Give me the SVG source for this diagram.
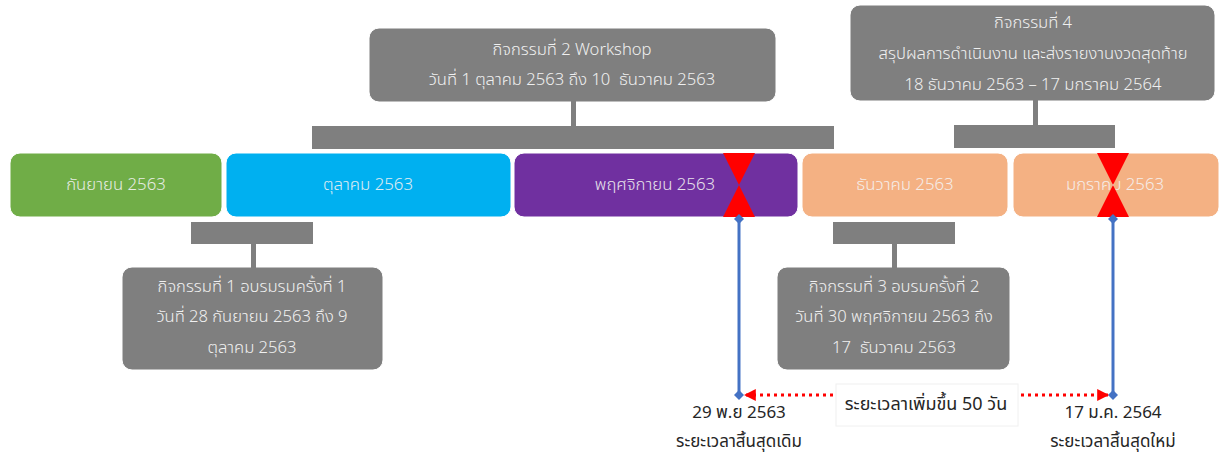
<svg xmlns="http://www.w3.org/2000/svg" width="1220" height="459" viewBox="0 0 1220 459">
<defs>
<style>
text{font-family:"Noto Sans Thai","Noto Sans","Leelawadee UI",Tahoma,sans-serif;text-anchor:middle;dominant-baseline:central;white-space:pre;font-weight:300}
.box{fill:#7f7f7f;stroke:#ffffff;stroke-width:1}
.bar{fill:#7f7f7f}
.bt{fill:#f0f0f0;font-size:16.6px}
.mt{fill:#f4f4f4;font-size:16.8px;opacity:.9}
.month{stroke:#ffffff;stroke-width:1}
.lbl{fill:#262626;font-size:17px;font-weight:400}
.vline{stroke:#4472c4;stroke-width:3}
.dot{stroke:#ff0000;stroke-width:3;stroke-dasharray:3 4;fill:none}
</style>
<marker id="dia" viewBox="0 0 10 10" refX="5" refY="5" markerWidth="10" markerHeight="10" markerUnits="userSpaceOnUse" orient="auto"><path d="M5 0L10 5L5 10L0 5Z" fill="#4472c4"/></marker>
<marker id="arr" viewBox="0 0 10 10" refX="9" refY="5" markerWidth="12" markerHeight="12" markerUnits="userSpaceOnUse" orient="auto"><path d="M0 0L10 5L0 10Z" fill="#ff0000"/></marker>
</defs>

<g id="months">
<g id="m-sep"><rect class="month" x="10" y="153" width="212" height="64" rx="10" fill="#70ad47"/><text class="mt" x="116" y="185">กันยายน 2563</text></g>
<g id="m-oct"><rect class="month" x="226" y="153" width="285" height="64" rx="10" fill="#00b0f0"/><text class="mt" x="368" y="185">ตุลาคม 2563</text></g>
<g id="m-nov"><rect class="month" x="514" y="153" width="284" height="64" rx="10" fill="#7030a0"/><text class="mt" x="655" y="185">พฤศจิกายน 2563</text></g>
<g id="m-dec"><rect class="month" x="802" y="153" width="206" height="64" rx="10" fill="#f4b183"/><text class="mt" x="905" y="185">ธันวาคม 2563</text></g>
<g id="m-jan"><rect class="month" x="1013" y="153" width="206" height="64" rx="10" fill="#f4b183"/><text class="mt" x="1115" y="185">มกราคม 2563</text></g>
</g>

<g id="markers">
<path d="M723 153L755 153L739 185L755 217L723 217L739 185Z" fill="#ff0000"/>
<path d="M1097 153L1129 153L1113 185L1129 217L1097 217L1113 185Z" fill="#ff0000"/>
</g>

<g id="activity2">
<rect class="box" x="369" y="28" width="407" height="74" rx="10"/>
<text class="bt" x="572" y="49">กิจกรรมที่ 2 Workshop</text>
<text class="bt" x="572" y="79" xml:space="preserve">วันที่ 1 ตุลาคม 2563 ถึง 10  ธันวาคม 2563</text>
</g>
<g id="activity4">
<rect class="box" x="850" y="5" width="365" height="96" rx="10"/>
<text class="bt" x="1033" y="22">กิจกรรมที่ 4</text>
<text class="bt" x="1033" y="53">สรุปผลการดำเนินงาน และส่งรายงานงวดสุดท้าย</text>
<text class="bt" x="1033" y="84">18 ธันวาคม 2563 – 17 มกราคม 2564</text>
</g>
<g id="activity1">
<rect class="box" x="122" y="267" width="261" height="103" rx="10"/>
<text class="bt" x="252" y="286">กิจกรรมที่ 1 อบรมรมครั้งที่ 1</text>
<text class="bt" x="252" y="316">วันที่ 28 กันยายน 2563 ถึง 9</text>
<text class="bt" x="252" y="347">ตุลาคม 2563</text>
</g>
<g id="activity3">
<rect class="box" x="777" y="267" width="233" height="103" rx="10"/>
<text class="bt" x="894" y="286">กิจกรรมที่ 3 อบรมครั้งที่ 2</text>
<text class="bt" x="894" y="316">วันที่ 30 พฤศจิกายน 2563 ถึง</text>
<text class="bt" x="894" y="347" xml:space="preserve">17  ธันวาคม 2563</text>
</g>

<g id="connectors">
<rect class="bar" x="312" y="126" width="522" height="23"/>
<rect class="bar" x="571" y="101" width="5" height="26"/>
<rect class="bar" x="954" y="125" width="161" height="23"/>
<rect class="bar" x="1033" y="100" width="5" height="26"/>
<rect class="bar" x="191" y="222" width="122" height="22"/>
<rect class="bar" x="251" y="243" width="5" height="25"/>
<rect class="bar" x="833" y="222" width="122" height="22"/>
<rect class="bar" x="892" y="243" width="5" height="25"/>
<line class="vline" x1="739" y1="219" x2="739" y2="395" marker-start="url(#dia)" marker-end="url(#dia)"/>
<line class="vline" x1="1113" y1="219" x2="1113" y2="395" marker-start="url(#dia)" marker-end="url(#dia)"/>
<line class="dot" x1="833" y1="395" x2="745" y2="395" marker-end="url(#arr)"/>
<line class="dot" x1="1021" y1="395" x2="1108" y2="395" marker-end="url(#arr)"/>
</g>

<g id="duration">
<rect x="836" y="384" width="182" height="42" fill="#ffffff" stroke="#f0f0f0" stroke-width="1"/>
<text class="lbl" x="926" y="404" style="font-size:18px">ระยะเวลาเพิ่มขึ้น 50 วัน</text>
</g>
<g id="end-old">
<text class="lbl" x="739" y="413">29 พ.ย 2563</text>
<text class="lbl" x="739" y="442">ระยะเวลาสิ้นสุดเดิม</text>
</g>
<g id="end-new">
<text class="lbl" x="1113" y="413">17 ม.ค. 2564</text>
<text class="lbl" x="1113" y="442">ระยะเวลาสิ้นสุดใหม่</text>
</g>
</svg>
